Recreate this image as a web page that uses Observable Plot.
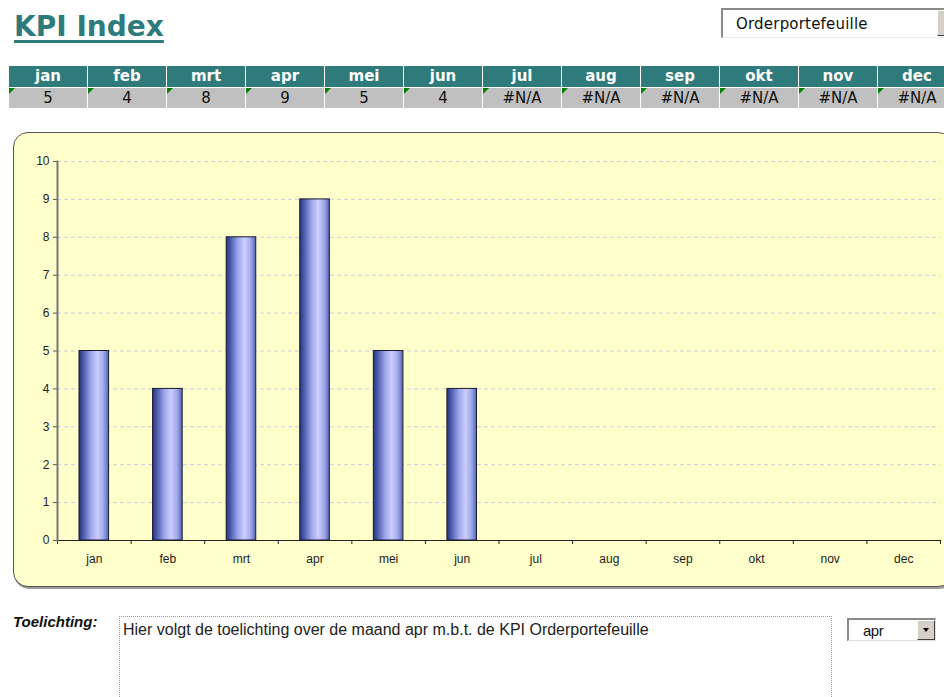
<!DOCTYPE html>
<html>
<head>
<meta charset="utf-8">
<script src="https://cdn.jsdelivr.net/npm/d3@7"></script>
<script src="https://cdn.jsdelivr.net/npm/@observablehq/plot@0.6"></script>
<style>
  html, body { margin: 0; padding: 0; background: #fff; }
  #page { position: relative; width: 944px; height: 697px; overflow: hidden; background: #fff; }
  #title { position: absolute; left: 14px; top: 13px; font: bold 28px "DejaVu Sans", Verdana, sans-serif; line-height: 28px; color: #2E7B7B; text-decoration: underline; text-decoration-thickness: 3px; text-underline-offset: 4px; white-space: nowrap; }
  #kpiSelect { position: absolute; left: 721px; top: 8px; width: 240px; height: 30px; background: #fff; border-left: 2px solid #8a8a8a; border-top: 2px solid #8a8a8a; border-bottom: 1px solid #e8e8e8; box-sizing: border-box; }
  #kpiSelect span { position: absolute; left: 13px; top: 5px; font: 15px "DejaVu Sans", sans-serif; color: #111; letter-spacing: 0.2px; }
  .btn { position: absolute; background: #d4d0c8; border-left: 1px solid #fff; border-top: 1px solid #fff; border-right: 1px solid #404040; border-bottom: 1px solid #404040; box-sizing: border-box; }
  .btn::after { content: ""; position: absolute; left: 50%; top: 50%; margin-left: -3px; margin-top: -2px; border-top: 4px solid #000; border-left: 3.5px solid transparent; border-right: 3.5px solid transparent; }
  #table { position: absolute; left: 9px; top: 66px; display: grid; grid-template-columns: repeat(12, 78px); grid-template-rows: 21px 20px; column-gap: 1px; row-gap: 1px; background: #fff; }
  .hd { background: #2F7A7A; color: #fff; font: bold 15px "DejaVu Sans", sans-serif; text-align: center; line-height: 21px; }
  .vl { position: relative; background: #C0C0C0; color: #111; font: 15px "DejaVu Sans", sans-serif; text-align: center; line-height: 20px; }
  .vl::before { content: ""; position: absolute; left: 0; top: 0; border-top: 6px solid #008000; border-right: 6px solid transparent; }
  #chartBox { position: absolute; left: 13px; top: 132px; width: 940px; height: 455px; background: #FFFFCC; border: 1.5px solid #555; border-radius: 15px; box-shadow: 1px 2px 0 #9a9a9a; box-sizing: border-box; }
  #chart svg { position: absolute; left: 0; top: 0; }
  #toel { position: absolute; left: 13px; top: 614px; font: italic bold 15px "Liberation Sans", Arial, sans-serif; line-height: 15px; color: #111; }
  #note { position: absolute; left: 119px; top: 616px; width: 713px; height: 95px; border: 1px dotted #6FA6E0; box-sizing: border-box; font: 16px "Liberation Sans", Arial, sans-serif; color: #222; padding: 5px 3px; line-height: 16px; }
  #monthSelect { position: absolute; left: 847px; top: 618px; width: 89px; height: 23px; background: #fff; border-left: 2px solid #8a8a8a; border-top: 2px solid #8a8a8a; border-right: 1px solid #e0e0e0; border-bottom: 1px solid #e0e0e0; box-sizing: border-box; }
  #monthSelect span { position: absolute; left: 14px; top: 3px; font: 15px "Liberation Sans", Arial, sans-serif; line-height: 15px; color: #111; letter-spacing: -0.5px; }
</style>
</head>
<body>
<div id="page">
  <div id="title">KPI Index</div>
  <div id="kpiSelect"><span></span><div class="btn" style="left:214px; top:0px; width:20px; height:26px;"></div></div>
  <div id="table"></div>
  <div id="chartBox"></div>
  <div id="chart"></div>
  <div id="toel">Toelichting:</div>
  <div id="note"></div>
  <div id="monthSelect"><span></span><div class="btn" style="left:68px; top:0px; width:18px; height:20px;"></div></div>
</div>
<script>
const months = ["jan", "feb", "mrt", "apr", "mei", "jun", "jul", "aug", "sep", "okt", "nov", "dec"];
const values = [5, 4, 8, 9, 5, 4, null, null, null, null, null, null];
const yTicks = [0, 1, 2, 3, 4, 5, 6, 7, 8, 9, 10];
const kpiName = "Orderportefeuille";
const selectedMonth = "apr";

document.querySelector("#kpiSelect span").textContent = kpiName;
document.querySelector("#monthSelect span").textContent = selectedMonth;
document.querySelector("#note").textContent =
  "Hier volgt de toelichting over de maand " + selectedMonth + " m.b.t. de KPI " + kpiName;

const table = document.getElementById("table");
months.forEach(m => { const d = document.createElement("div"); d.className = "hd"; d.textContent = m; table.appendChild(d); });
values.forEach(v => { const d = document.createElement("div"); d.className = "vl"; d.textContent = v == null ? "#N/A" : v; table.appendChild(d); });

const data = months.map((m, i) => ({month: m, value: values[i]})).filter(d => d.value != null);

const W = 944, H = 600, ml = 57, mr = 4, mt = 161, mb = 60;
const step = (W - ml - mr) / months.length;

const chart = Plot.plot({
  width: W, height: H,
  marginLeft: ml, marginRight: mr, marginTop: mt, marginBottom: mb,
  style: {background: "transparent", fontFamily: "'Liberation Sans', Arial, sans-serif", fontSize: "12px", color: "#222", overflow: "visible"},
  x: {domain: months, padding: 0, round: false, label: null},
  y: {domain: [0, 10], label: null},
  marks: [
    Plot.gridY(yTicks.filter(t => t > 0), {stroke: "#cdcde4", strokeOpacity: 1, strokeDasharray: "4,3"}),
    Plot.barY(data, {x: "month", y: "value", fill: "url(#barGrad)", stroke: "#1a1a2a", strokeWidth: 1, insetLeft: 22, insetRight: 22}),
    Plot.axisY({ticks: yTicks, tickSize: 4, tickPadding: 4, stroke: "#555", fill: "#222", label: null}),
    Plot.axisX({tickSize: 0, tickPadding: 14, fill: "#222", label: null}),
    Plot.axisX({tickSize: 4, text: null, dx: -step / 2, stroke: "#222", label: null}),
    Plot.axisX({ticks: [months[months.length - 1]], tickSize: 4, text: null, dx: step / 2, stroke: "#222", label: null}),
    Plot.ruleY([0], {stroke: "#222"}),
    Plot.frame({anchor: "left", stroke: "#777", strokeWidth: 2})
  ]
});

const defs = d3.select(chart).insert("defs", ":first-child");
const g = defs.append("linearGradient").attr("id", "barGrad").attr("x1", "0").attr("x2", "1").attr("y1", "0").attr("y2", "0");
[[0, "#24347f"], [0.15, "#4d5cae"], [0.4, "#9da6ea"], [0.62, "#cbcdff"], [0.82, "#a3abec"], [1, "#5464b2"]]
  .forEach(([o, c]) => g.append("stop").attr("offset", o).attr("stop-color", c));

document.getElementById("chart").appendChild(chart);
</script>
</body>
</html>
